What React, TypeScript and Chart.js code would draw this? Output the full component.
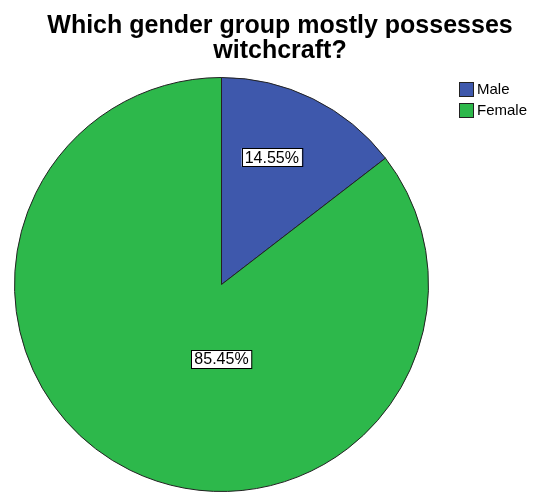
import React, { useEffect, useRef } from "react";
import { Chart, registerables } from "chart.js";

Chart.register(...registerables);

const categories = ["Male", "Female"];
const percentages = [14.55, 85.45];
const sliceColors = ["#3E58AC", "#2DB84B"];
const titleLines = ["Which gender group mostly possesses", "witchcraft?"];
// label placement as polar offset from pie centre: [angle from 12 o'clock (deg), fraction of radius]
const labelPlacement = [
  [21.6, 0.66],
  [180, 0.36],
];

const textPlugin = {
  id: "spssText",
  afterDraw(chart: any) {
    const ctx = chart.ctx;
    ctx.save();
    // title
    ctx.fillStyle = "#000";
    ctx.font = "bold 25px Arial, 'Liberation Sans', sans-serif";
    ctx.textAlign = "center";
    ctx.textBaseline = "alphabetic";
    ctx.fillText(titleLines[0], 280, 33);
    ctx.fillText(titleLines[1], 280, 58);

    // legend
    ctx.font = "15px Arial, 'Liberation Sans', sans-serif";
    ctx.textAlign = "left";
    ctx.textBaseline = "middle";
    categories.forEach((c, i) => {
      const y = 82 + i * 21;
      ctx.fillStyle = sliceColors[i];
      ctx.fillRect(459, y, 15, 15);
      ctx.strokeStyle = "#222";
      ctx.lineWidth = 1;
      ctx.strokeRect(459.5, y + 0.5, 14, 14);
      ctx.fillStyle = "#000";
      ctx.fillText(c, 477, y + 8);
    });

    // data labels
    const meta = chart.getDatasetMeta(0);
    ctx.font = "16px Arial, 'Liberation Sans', sans-serif";
    meta.data.forEach((arc: any, i: number) => {
      const r = arc.outerRadius;
      const [ang, frac] = labelPlacement[i];
      const a = (ang * Math.PI) / 180;
      const cx = arc.x + Math.sin(a) * r * frac;
      const cy = arc.y - Math.cos(a) * r * frac;
      const txt = percentages[i].toFixed(2) + "%";
      const w = ctx.measureText(txt).width;
      const bw = w + 6;
      const bh = 18;
      ctx.fillStyle = "#fff";
      ctx.fillRect(cx - bw / 2, cy - bh / 2, bw, bh);
      ctx.strokeStyle = "#000";
      ctx.lineWidth = 1;
      ctx.strokeRect(Math.round(cx - bw / 2) + 0.5, Math.round(cy - bh / 2) + 0.5, bw, bh);
      ctx.fillStyle = "#000";
      ctx.textAlign = "center";
      ctx.fillText(txt, cx, cy + 1);
    });
    ctx.restore();
  },
};

export default function App() {
  const ref = useRef<HTMLCanvasElement>(null);
  useEffect(() => {
    document.body.style.margin = "0";
    const chart = new Chart(ref.current!, {
      type: "pie",
      data: {
        labels: categories,
        datasets: [
          {
            data: percentages,
            backgroundColor: sliceColors,
            borderColor: "#222",
            borderWidth: 1,
          },
        ],
      },
      options: {
        responsive: false,
        animation: false,
        devicePixelRatio: 1,
        layout: { padding: { top: 77, bottom: 0, left: 14, right: 106 } },
        plugins: {
          legend: { display: false },
          title: { display: false },
          tooltip: { enabled: false },
        },
      },
      plugins: [textPlugin],
    });
    return () => chart.destroy();
  }, []);
  return (
    <div style={{ width: 535, height: 492, background: "#fff" }}>
      <canvas ref={ref} width={535} height={492} />
    </div>
  );
}
